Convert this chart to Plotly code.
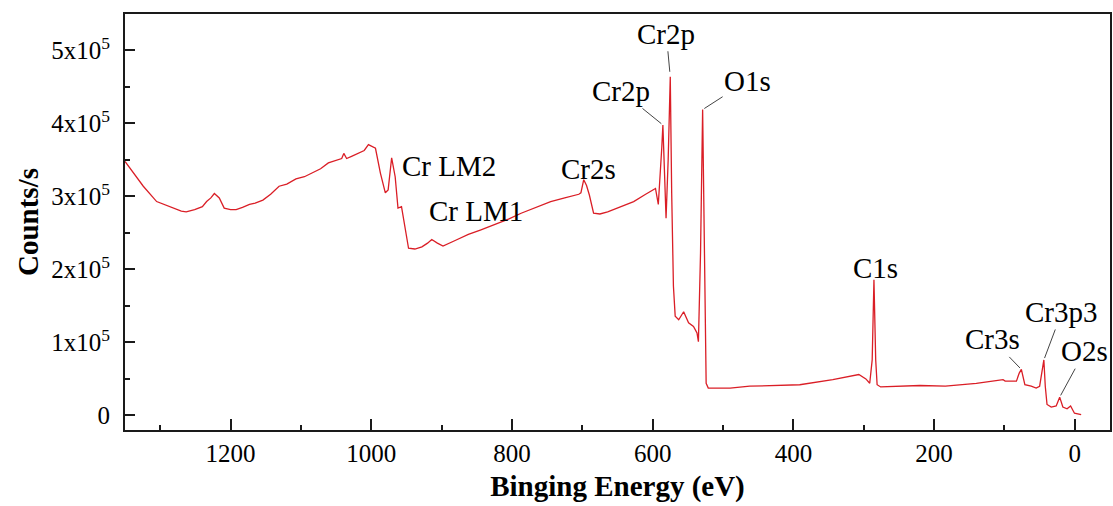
import plotly.graph_objects as go

# ---- data ----
energy = [1350, 1340, 1324, 1305, 1290, 1282, 1270, 1263, 1251, 1240, 1234, 1228, 1223, 1216,
          1209, 1200, 1192, 1183, 1173, 1165, 1154, 1143, 1131, 1120, 1107, 1095, 1084, 1072,
          1061, 1050, 1042, 1039, 1035, 1028, 1018, 1010, 1004, 998, 994, 987, 980, 976, 971,
          966, 962, 957, 952, 947, 938, 928, 920, 914, 906, 898, 880, 862, 845, 825, 805, 787,
          765, 745, 725, 705, 702, 698, 694, 690, 684, 675, 664, 645, 627, 610, 599, 596, 592,
          589, 587, 585.5, 584, 581, 578, 575, 573, 570.5, 568, 563, 556, 549, 542, 537, 535,
          532, 529, 527, 524, 521, 505, 490, 462, 430, 391, 344, 320, 307, 297, 291.5, 288,
          285.5, 283, 281, 276, 250, 220, 184, 140, 102, 99, 83, 79, 76, 71, 62, 55, 50, 47.5,
          44, 42, 39.5, 33.5, 26.5, 21.5, 17, 11, 6, 0.5, -9]
counts_e5 = [3.48, 3.35, 3.14, 2.93, 2.87, 2.84, 2.80, 2.79, 2.82, 2.86, 2.93, 2.98, 3.04, 2.98,
             2.84, 2.82, 2.82, 2.85, 2.89, 2.91, 2.95, 3.03, 3.14, 3.17, 3.24, 3.27, 3.32, 3.38,
             3.46, 3.50, 3.52, 3.59, 3.52, 3.55, 3.59, 3.63, 3.71, 3.68, 3.66, 3.32, 3.05, 3.09,
             3.53, 3.27, 2.84, 2.86, 2.55, 2.29, 2.28, 2.31, 2.36, 2.41, 2.36, 2.32, 2.40, 2.48,
             2.54, 2.61, 2.69, 2.77, 2.85, 2.93, 2.98, 3.03, 3.05, 3.23, 3.15, 3.02, 2.77, 2.76,
             2.79, 2.86, 2.93, 3.03, 3.09, 3.11, 2.89, 3.30, 3.68, 3.98, 3.50, 2.70, 3.50, 4.64,
             3.05, 1.77, 1.36, 1.31, 1.42, 1.27, 1.22, 1.13, 1.01, 2.22, 4.19, 2.82, 0.44, 0.375,
             0.38, 0.375, 0.40, 0.41, 0.42, 0.49, 0.53, 0.56, 0.50, 0.44, 0.76, 1.86, 0.76, 0.42,
             0.39, 0.40, 0.41, 0.40, 0.44, 0.49, 0.47, 0.47, 0.58, 0.63, 0.42, 0.40, 0.375, 0.40,
             0.56, 0.76, 0.40, 0.15, 0.115, 0.13, 0.25, 0.115, 0.09, 0.13, 0.03, 0.01]
counts = [c * 1e5 for c in counts_e5]

y_tickvals = [0, 1e5, 2e5, 3e5, 4e5, 5e5]
y_ticktext = ["0", "1x10<sup>5</sup>", "2x10<sup>5</sup>", "3x10<sup>5</sup>",
              "4x10<sup>5</sup>", "5x10<sup>5</sup>"]

# peak labels: (text, peak energy)  -- leader-line labels
arrow_labels = ["Cr2p", "Cr2p", "O1s", "Cr3s", "Cr3p3", "O2s"]
arrow_peaks = [575, 585.5, 529, 76, 44, 21.5]
# plain labels placed near their features
plain_labels = ["Cr LM2", "Cr LM1", "Cr2s", "C1s"]
plain_peaks = [971, 914, 698, 285.5]

# ---- layout / styling parameters (pixels) ----
arrow_offsets = [(-4, -43, 5), (-42, -34, 2), (45, -29, 2), (-29, -30, 2), (18, -48, 2), (25, -46, 2)]
plain_shifts = [(57, -8), (44, 29), (5, 11), (2, 12)]

FONT = "Liberation Serif"
AXC = "#1a1a1a"

def peak_value(e):
    return counts[energy.index(e)]

fig = go.Figure()
fig.add_trace(go.Scatter(x=energy, y=counts, mode="lines",
                         line=dict(color="rgb(218,30,38)", width=1.3),
                         showlegend=False, hoverinfo="skip"))

annotations = []
for lab, e, (ax, ay, so) in zip(arrow_labels, arrow_peaks, arrow_offsets):
    annotations.append(dict(x=e, y=peak_value(e), xref="x", yref="y", text=lab,
                            showarrow=True, arrowhead=0, arrowwidth=1, arrowcolor="#444",
                            ax=ax, ay=ay, standoff=so,
                            font=dict(family=FONT, size=29, color="black")))
for lab, e, (xs, ys) in zip(plain_labels, plain_peaks, plain_shifts):
    annotations.append(dict(x=e, y=peak_value(e), xref="x", yref="y", text=lab,
                            showarrow=False, xshift=xs, yshift=ys,
                            font=dict(family=FONT, size=29, color="black")))

fig.update_layout(
    width=1113, height=506,
    margin=dict(l=125, r=1, t=14, b=76),
    paper_bgcolor="white", plot_bgcolor="white",
    font=dict(family=FONT, color="black"),
    annotations=annotations,
    xaxis=dict(range=[1350, -50], tickmode="linear", tick0=0, dtick=200,
               ticks="inside", ticklen=11, tickwidth=2, tickcolor=AXC,
               minor=dict(tickmode="linear", tick0=0, dtick=100, ticks="inside",
                          ticklen=5, tickwidth=2, tickcolor=AXC),
               showline=True, linewidth=2, linecolor=AXC, mirror=True,
               showgrid=False, zeroline=False,
               tickfont=dict(family=FONT, size=25, color="black"),
               title=dict(text="<b>Binging Energy (eV)</b>", standoff=10,
                          font=dict(family=FONT, size=29, color="black"))),
    yaxis=dict(range=[-2e4, 5.5e5], tickmode="array", tickvals=y_tickvals, ticktext=y_ticktext,
               ticks="inside", ticklen=10, tickwidth=2, tickcolor=AXC,
               minor=dict(tickmode="linear", tick0=0, dtick=5e4, ticks="inside",
                          ticklen=5, tickwidth=2, tickcolor=AXC),
               showline=True, linewidth=2, linecolor=AXC, mirror=True,
               showgrid=False, zeroline=False,
               ticklabelstandoff=8,
               tickfont=dict(family=FONT, size=25, color="black"),
               title=dict(text="<b>Counts/s</b>", standoff=4,
                          font=dict(family=FONT, size=29, color="black"))),
)

fig.write_html("out.html")
